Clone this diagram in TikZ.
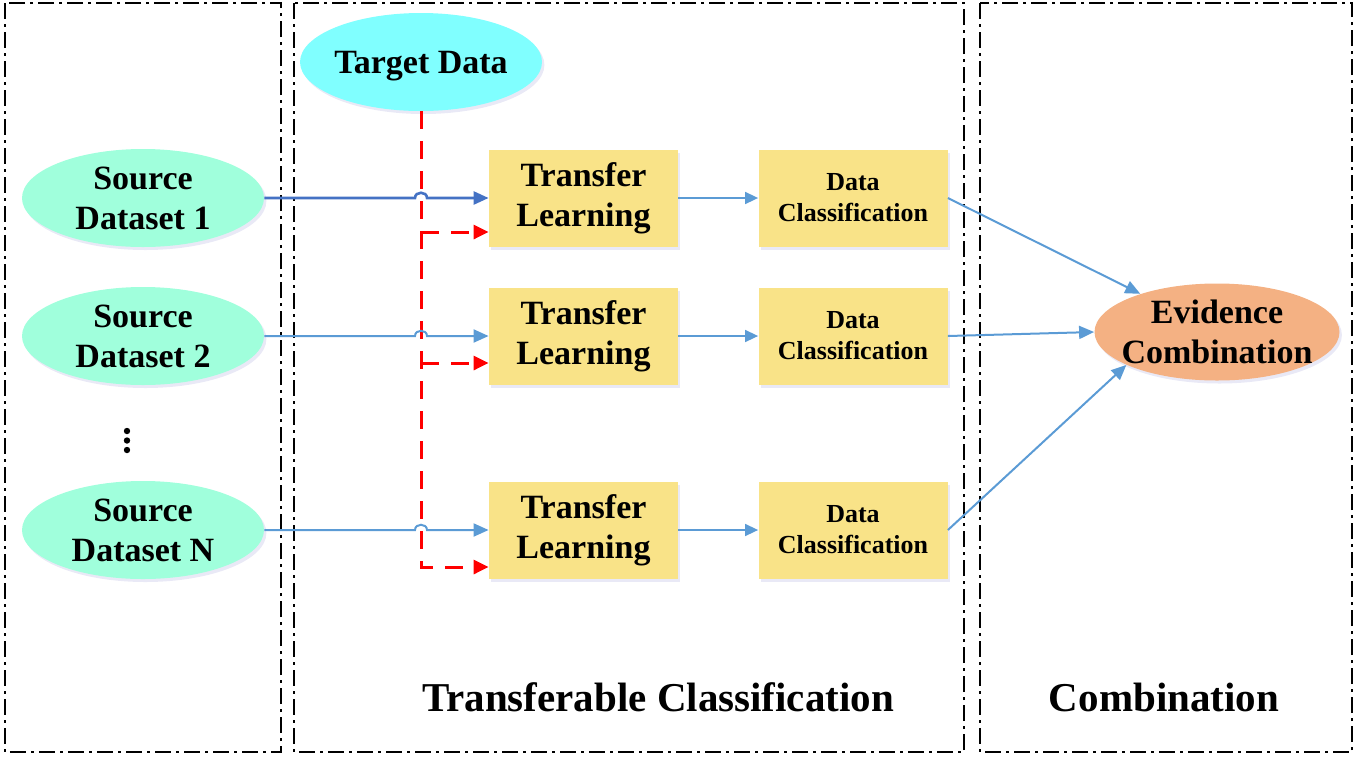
\documentclass[tikz,border=0pt]{standalone}
\usepackage{fontspec}
\setmainfont{Liberation Serif}
\usetikzlibrary{arrows.meta,shapes.geometric,shadows}

\definecolor{srcGreen}{HTML}{A0FFDC}
\definecolor{tgtCyan}{HTML}{80FFFF}
\definecolor{boxYellow}{HTML}{F9E388}
\definecolor{evOrange}{HTML}{F4B183}
\definecolor{lineBlue}{HTML}{5B9BD5}
\definecolor{darkBlue}{HTML}{4472C4}

\begin{document}
\begin{tikzpicture}[x=0.5pt,y=-0.5pt,
    panel/.style={draw,line width=0.9pt,dash pattern=on 8pt off 2.5pt on 1.5pt off 2.5pt},
    softshadow/.style={drop shadow={shadow xshift=1.2pt,shadow yshift=-1.5pt,opacity=.12,fill=blue!40!gray}},
    bigtext/.style={font=\fontsize{17}{20}\selectfont\bfseries,align=center},
    blob/.style={ellipse,inner xsep=-14pt,inner ysep=-4pt,minimum width=121pt,minimum height=49pt,softshadow,bigtext},
    stepbox/.style={rectangle,fill=boxYellow,inner sep=0pt,minimum width=94.5pt,minimum height=48.5pt,softshadow},
    flow/.style={draw=lineBlue,line width=1pt,-{Triangle[length=7.5pt,width=6.5pt]}},
    target/.style={draw=red,line width=1.5pt,dash pattern=on 9pt off 6pt,-{Triangle[length=7.5pt,width=7pt,sep=0pt]}}]
    \pgfmathsetmacro{\rowA}{198}
    \pgfmathsetmacro{\rowB}{336}
    \pgfmathsetmacro{\rowC}{530}
    \pgfmathsetmacro{\hopX}{421}
    \pgfmathsetmacro{\tlX}{583.5}
    \pgfmathsetmacro{\dcX}{853}

    \useasboundingbox (0,0) rectangle (1355,756);

    % Rahmen
    \draw[panel] (5,3) rectangle (281,752);
    \draw[panel] (294,3) rectangle (964,752);
    \draw[panel] (980,3) rectangle (1352,752);

    % Quelldaten
    \node[blob,fill=srcGreen] (src1) at (143,\rowA) {Source\\Dataset 1};
    \node[blob,fill=srcGreen] (src2) at (143,\rowB) {Source\\Dataset 2};
    \fill (127,431) circle (1.6pt) (127,440.5) circle (1.6pt) (127,450) circle (1.6pt);
    \node[blob,fill=srcGreen] (src3) at (143,\rowC) {Source\\Dataset N};

    % Zieldaten
    \node[blob,fill=tgtCyan,text depth=0pt] (tgt) at (\hopX,62) {Target Data};

    % Transfer und Klassifikation
    \node[stepbox,bigtext] (tl1) at (\tlX,\rowA) {Transfer\\Learning};
    \node[stepbox,bigtext] (tl2) at (\tlX,\rowB) {Transfer\\Learning};
    \node[stepbox,bigtext] (tl3) at (\tlX,\rowC) {Transfer\\Learning};
    \node[stepbox,align=center,font=\fontsize{13}{15.5}\selectfont\bfseries] (dc1) at (\dcX,\rowA) {Data\\Classification};
    \node[stepbox,align=center,font=\fontsize{13}{15.5}\selectfont\bfseries] (dc2) at (\dcX,\rowB) {Data\\Classification};
    \node[stepbox,align=center,font=\fontsize{13}{15.5}\selectfont\bfseries] (dc3) at (\dcX,\rowC) {Data\\Classification};

    % Kombination
    \node[blob,fill=evOrange,minimum width=122.5pt,minimum height=48.5pt] (ev) at (1217,332) {Evidence\\Combination};

    % Zielstrahl (rot)
    \coordinate (t1) at (\hopX,232);
    \coordinate (t2) at (\hopX,363);
    \coordinate (t3) at (\hopX,567);
    \draw[target] (tgt.south) -- (t3) -- (tl3.west |- t3);
    \draw[target] (t1) -- (tl1.west |- t1);
    \draw[target] (t2) -- (tl2.west |- t2);

    % Quellstrahlen mit Bruecke
    \draw[flow,draw=darkBlue,line width=1.3pt] (src1.east) -- (\hopX-6,\rowA) .. controls +(0,-7) and +(0,-7) .. (\hopX+6,\rowA) -- (tl1.west);
    \draw[flow] (src2.east) -- (\hopX-6,\rowB) .. controls +(0,-7) and +(0,-7) .. (\hopX+6,\rowB) -- (tl2.west);
    \draw[flow] (src3.east) -- (\hopX-6,\rowC) .. controls +(0,-7) and +(0,-7) .. (\hopX+6,\rowC) -- (tl3.west);

    % Transfer -> Klassifikation
    \draw[flow,line width=0.8pt,-{Triangle[length=6.5pt,width=6pt]}] (tl1.east) -- (dc1.west);
    \draw[flow,line width=0.8pt,-{Triangle[length=6.5pt,width=6pt]}] (tl2.east) -- (dc2.west);
    \draw[flow,line width=0.8pt,-{Triangle[length=6.5pt,width=6pt]}] (tl3.east) -- (dc3.west);

    % Klassifikation -> Kombination
    \draw[flow] (dc1.east) -- (ev);
    \draw[flow] (dc2.east) -- (ev.west);
    \draw[flow] (dc3.east) -- (ev.200);

    % Beschriftung
    \node[font=\fontsize{20.5}{24}\selectfont\bfseries] (lblTC) at (658,697) {Transferable Classification};
    \node[font=\fontsize{20.5}{24}\selectfont\bfseries] (lblC) at (1164,697) {Combination};
\end{tikzpicture}
\end{document}
